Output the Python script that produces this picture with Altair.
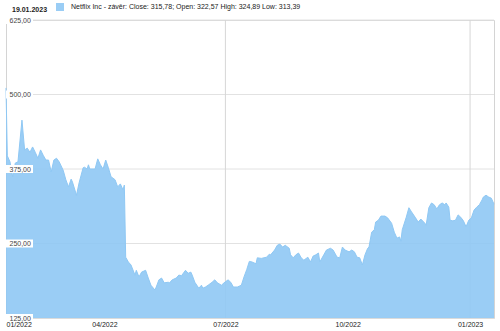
import altair as alt
import pandas as pd

# ---- data (Netflix Inc, close) ----
dates_q1 = ["2022-01-17", "2022-01-18", "2022-01-20", "2022-01-22", "2022-01-24", "2022-01-26",
            "2022-01-29", "2022-01-31", "2022-02-02", "2022-02-04", "2022-02-06", "2022-02-08",
            "2022-02-10", "2022-02-12", "2022-02-14", "2022-02-16", "2022-02-18", "2022-02-20",
            "2022-02-22", "2022-02-24", "2022-02-26", "2022-03-01", "2022-03-03", "2022-03-05",
            "2022-03-07", "2022-03-08", "2022-03-11", "2022-03-13", "2022-03-16", "2022-03-17",
            "2022-03-19", "2022-03-20", "2022-03-21", "2022-03-25", "2022-03-27", "2022-03-29",
            "2022-03-31", "2022-04-02", "2022-04-04", "2022-04-06", "2022-04-09", "2022-04-11",
            "2022-04-13", "2022-04-15", "2022-04-16"]
close_q1 = [511, 397, 387, 362, 385, 387,
            457, 407, 410, 403, 412, 403,
            393, 407, 398, 390, 390, 370,
            390, 393, 387, 373, 357, 345,
            358, 353, 331, 352, 377, 378,
            375, 382, 375, 375, 392, 382,
            375, 390, 377, 362, 357, 345,
            350, 340, 348]

dates_q2 = ["2022-04-17", "2022-04-19", "2022-04-21", "2022-04-24", "2022-04-25", "2022-04-27",
            "2022-04-29", "2022-05-02", "2022-05-04", "2022-05-06", "2022-05-09", "2022-05-10",
            "2022-05-12", "2022-05-14", "2022-05-16", "2022-05-19", "2022-05-20", "2022-05-22",
            "2022-05-25", "2022-05-27", "2022-05-29", "2022-06-01", "2022-06-03", "2022-06-05",
            "2022-06-06", "2022-06-08", "2022-06-11", "2022-06-13", "2022-06-14", "2022-06-16",
            "2022-06-18", "2022-06-21", "2022-06-23", "2022-06-25", "2022-06-28", "2022-06-30",
            "2022-07-03", "2022-07-05", "2022-07-07", "2022-07-10", "2022-07-13", "2022-07-15",
            "2022-07-17", "2022-07-19"]
close_q2 = [227, 219, 214, 197, 205, 194,
            202, 205, 192, 180, 172, 177,
            189, 192, 184, 185, 184, 189,
            192, 197, 196, 205, 200, 202,
            197, 185, 175, 180, 175, 177,
            180, 185, 189, 184, 180, 184,
            189, 185, 177, 177, 180, 194,
            206, 220]

dates_q3 = ["2022-07-21", "2022-07-24", "2022-07-25", "2022-07-28", "2022-07-30", "2022-08-01",
            "2022-08-03", "2022-08-04", "2022-08-07", "2022-08-09", "2022-08-11", "2022-08-13",
            "2022-08-15", "2022-08-18", "2022-08-19", "2022-08-21", "2022-08-23", "2022-08-25",
            "2022-08-27", "2022-08-29", "2022-09-01", "2022-09-03", "2022-09-05", "2022-09-07",
            "2022-09-09", "2022-09-10", "2022-09-13", "2022-09-15", "2022-09-18", "2022-09-20",
            "2022-09-23", "2022-09-25", "2022-09-27", "2022-09-29", "2022-10-02", "2022-10-04",
            "2022-10-06", "2022-10-08", "2022-10-10", "2022-10-12", "2022-10-14", "2022-10-16",
            "2022-10-17"]
close_q3 = [219, 216, 226, 225, 226, 227,
            232, 231, 239, 247, 249, 244,
            247, 242, 231, 226, 231, 234,
            226, 222, 227, 219, 229, 231,
            234, 219, 231, 239, 242, 239,
            227, 226, 244, 239, 236, 239,
            236, 227, 226, 214, 231, 242,
            244]

dates_q4 = ["2022-10-19", "2022-10-21", "2022-10-22", "2022-10-24", "2022-10-26", "2022-10-29",
            "2022-10-31", "2022-11-03", "2022-11-05", "2022-11-07", "2022-11-09", "2022-11-10",
            "2022-11-11", "2022-11-14", "2022-11-16", "2022-11-18", "2022-11-21", "2022-11-23",
            "2022-11-25", "2022-11-28", "2022-11-29", "2022-12-01", "2022-12-03", "2022-12-05",
            "2022-12-07", "2022-12-09", "2022-12-11", "2022-12-13", "2022-12-14", "2022-12-16",
            "2022-12-17", "2022-12-19", "2022-12-21", "2022-12-23", "2022-12-25", "2022-12-27",
            "2022-12-29", "2022-12-31", "2023-01-02", "2023-01-04", "2023-01-06", "2023-01-08",
            "2023-01-10", "2023-01-11", "2023-01-13", "2023-01-15", "2023-01-17", "2023-01-19"]
close_q4 = [269, 273, 286, 289, 296, 296,
            293, 284, 269, 259, 261, 254,
            273, 294, 310, 303, 293, 286,
            291, 284, 281, 310, 318, 315,
            308, 315, 318, 315, 318, 311,
            289, 288, 289, 298, 294, 288,
            278, 289, 293, 306, 311, 315,
            323, 328, 331, 328, 326, 316]

y_ticks = [125, 250, 375, 500, 625]
x_tick_dates = ["2022-01-17", "2022-04-01", "2022-07-01", "2022-10-01", "2023-01-01"]
grid_dates = ["2022-07-01", "2023-01-01"]
header_date = "19.01.2023"
series_label = "Netflix Inc - závěr: Close: 315,78; Open: 322,57 High: 324,89 Low: 313,39"

dates = dates_q1 + dates_q2 + dates_q3 + dates_q4
closes = close_q1 + close_q2 + close_q3 + close_q4
df = pd.DataFrame({"date": dates, "close": closes, "series": [series_label] * len(dates)})

FONT = "Liberation Sans"


def utc_dt(s):
    y, m, d = (int(p) for p in s.split("-"))
    return alt.DateTime(year=y, month=m, date=d, utc=True)


x_scale = alt.Scale(type="utc", domain=[utc_dt(dates[0]), utc_dt(dates[-1])])
y_scale = alt.Scale(domain=[y_ticks[0], y_ticks[-1]], zero=False, nice=False)

x_axis = alt.Axis(
    values=[utc_dt(s) for s in x_tick_dates],
    labelExpr="utcFormat(datum.value, '%m/%Y')",
    title=None, grid=False, ticks=False, tickSize=0, domain=False,
    labelFlush=True, labelPadding=2, labelFontSize=7, labelFont=FONT, labelColor="#222222",
    labelOverlap=False, labelBaseline="top")

y_axis = alt.Axis(
    values=y_ticks, title=None, grid=False, ticks=False, tickSize=0, domain=False,
    labelAlign="left", labelPadding=-3, labelFontSize=7, labelFont=FONT, labelColor="#444444",
    labelBaseline="middle", labelExpr="replace(format(datum.value, '.2f'), '.', ',')", zindex=1)

ticks_df = pd.DataFrame({"v": y_ticks})

hgrid = alt.Chart(ticks_df).mark_rule(color="#e2e2e2", strokeWidth=1).encode(
    y=alt.Y("v:Q", scale=y_scale, axis=y_axis))

vgrid = alt.Chart(pd.DataFrame({"d": grid_dates})).mark_rule(color="#d6d6d6", strokeWidth=1).encode(
    x=alt.X("d:T", scale=x_scale, axis=x_axis))

area = alt.Chart(df).mark_area(
    opacity=0.9, line={"color": "#5FACEA", "strokeWidth": 1}
).encode(
    x=alt.X("date:T", scale=x_scale, axis=x_axis),
    y=alt.Y("close:Q", scale=y_scale, axis=y_axis),
    y2=alt.datum(y_ticks[0]),
    color=alt.Color("series:N", scale=alt.Scale(range=["#8FC8F4"]),
                    legend=alt.Legend(title=None, orient="none", legendX=50, legendY=-17,
                                      symbolType="square", symbolSize=64, symbolStrokeWidth=0,
                                      symbolOpacity=0.9, labelFontSize=7, labelFont=FONT,
                                      labelColor="#222222", labelLimit=0, labelOffset=7,
                                      padding=0)),
)

boxes = alt.Chart(ticks_df).mark_rect(color="white", yOffset=-4, y2Offset=4).encode(
    x=alt.value(0), x2=alt.value(27),
    y=alt.Y("v:Q", scale=y_scale, axis=y_axis), y2="v:Q")

header = alt.Chart(pd.DataFrame({"t": [header_date]})).mark_text(
    align="left", baseline="middle", fontSize=7, fontWeight="bold", font=FONT, color="#222222"
).encode(text="t:N", x=alt.value(6), y=alt.value(-10))

chart = alt.layer(hgrid, vgrid, area, boxes, header).properties(
    width=488, height=298,
    autosize=alt.AutoSizeParams(type="none"),
    padding={"left": 6, "top": 20, "right": 6, "bottom": 13},
    background="white",
).configure_view(stroke="#d4d4d4", strokeWidth=1)

chart.save("out.html", embed_options={"renderer": "svg", "actions": False})
